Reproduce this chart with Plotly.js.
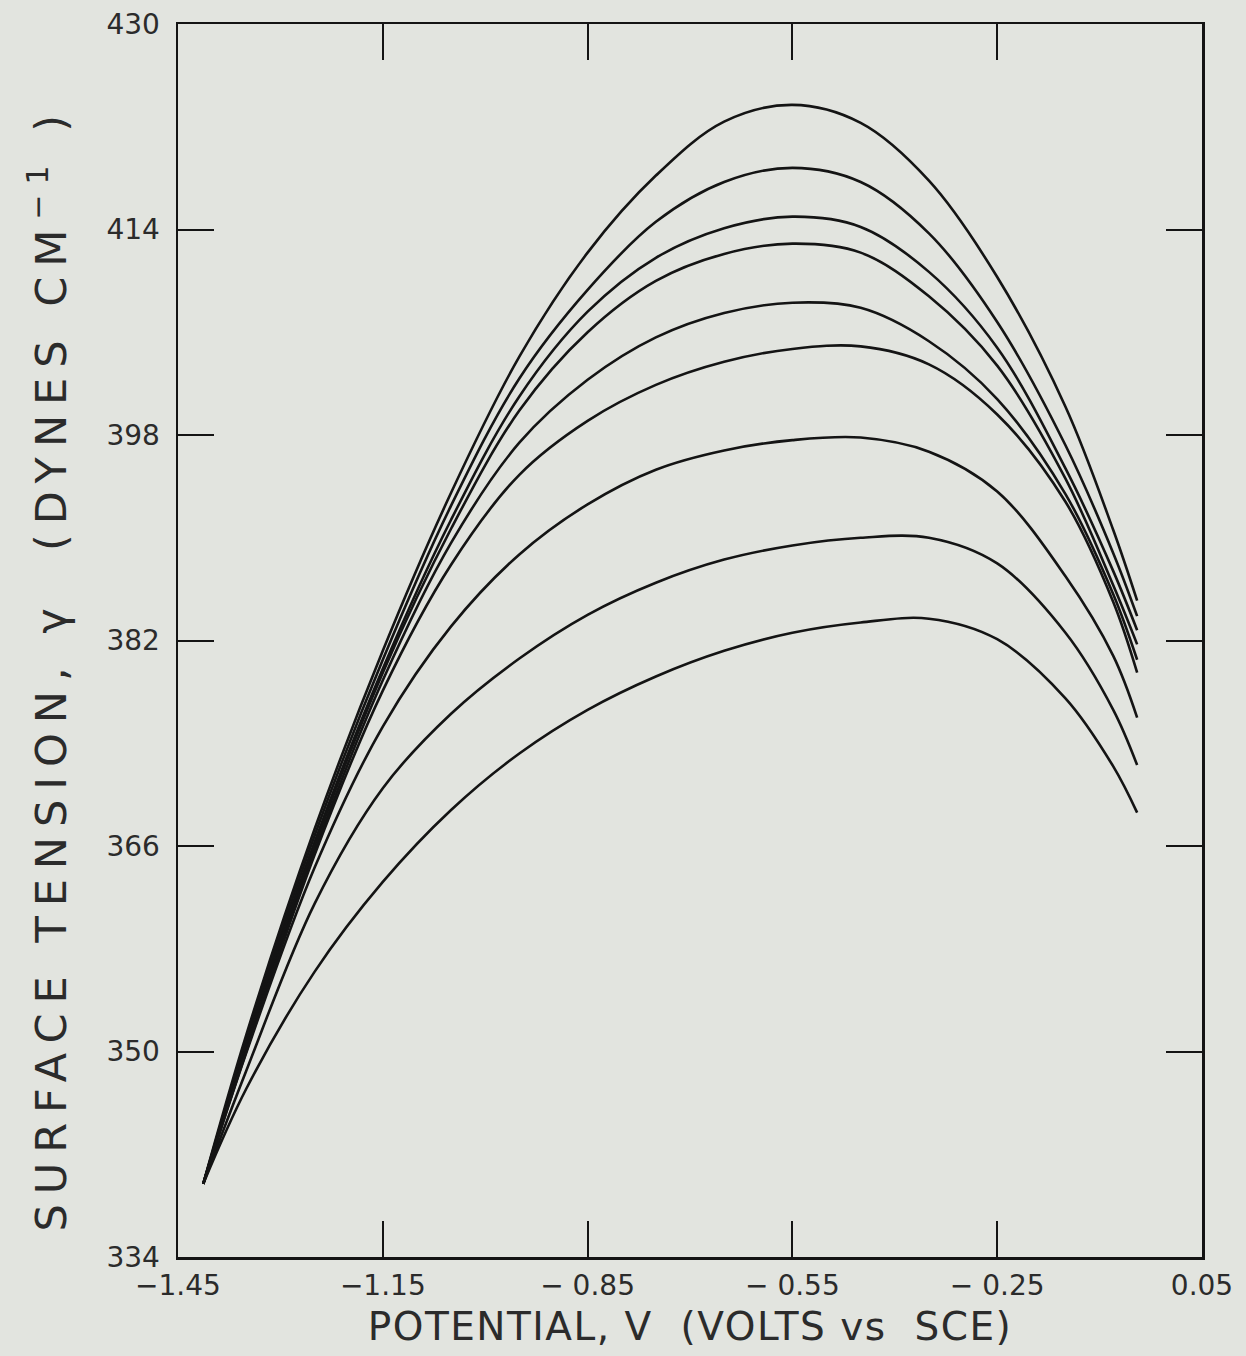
<!DOCTYPE html>
<html>
<head>
<meta charset="utf-8">
<script src="https://cdn.plot.ly/plotly-3.0.1.min.js"></script>
<style>
  html, body { margin: 0; padding: 0; background: #e2e4df; }
  #chart { width: 1246px; height: 1356px; }
  .annotation-text { letter-spacing: 10px; }
  .xtitle { letter-spacing: 1.5px; }
</style>
</head>
<body>
<div id="chart"></div>
<script>
// Potential (V vs SCE), shared by all curves
const potential = [-1.413, -1.35, -1.25, -1.15, -1.05, -0.95, -0.85, -0.75, -0.65, -0.55, -0.45, -0.35, -0.25, -0.15, -0.08, -0.045];

// Surface tension (dynes/cm); curve 1 = highest
const tension1 = [339.7, 351.3, 367.3, 381.2, 393.5, 404.1, 412.2, 418.2, 422.4, 423.7, 422.3, 417.8, 410.3, 400.2, 390.6, 385.1];
const tension2 = [339.7, 350.9, 366.8, 380.5, 392.5, 402.4, 409.3, 414.6, 417.7, 418.8, 417.7, 413.7, 406.8, 397.2, 388.8, 383.9];
const tension3 = [339.7, 350.6, 366.3, 379.8, 391.4, 401.0, 407.6, 411.8, 414.1, 415.0, 414.2, 410.7, 404.8, 395.4, 387.4, 382.8];
const tension4 = [339.7, 350.4, 366.0, 379.5, 390.7, 399.9, 406.0, 410.0, 412.1, 412.9, 412.2, 408.8, 403.4, 394.6, 386.3, 381.7];
const tension5 = [339.7, 350.2, 365.6, 378.9, 389.6, 397.4, 402.3, 405.6, 407.5, 408.3, 407.9, 405.3, 400.8, 393.4, 385.6, 380.5];
const tension6 = [339.7, 350.0, 365.3, 378.1, 387.9, 394.9, 399.1, 401.9, 403.7, 404.7, 404.9, 403.5, 399.6, 392.8, 385.0, 379.5];
const tension7 = [339.7, 349.9, 364.3, 375.3, 383.1, 388.7, 392.6, 395.3, 396.8, 397.6, 397.8, 396.7, 393.6, 387.0, 380.8, 376.0];
const tension8 = [339.7, 348.5, 361.5, 370.5, 376.3, 380.6, 384.0, 386.5, 388.3, 389.4, 390.0, 390.0, 388.0, 382.6, 376.6, 372.3];
const tension9 = [339.7, 347.1, 356.2, 363.2, 368.8, 373.2, 376.6, 379.2, 381.2, 382.6, 383.4, 383.7, 382.1, 377.5, 372.2, 368.6];

const xTickVals = [-1.45, -1.15, -0.85, -0.55, -0.25, 0.05];
const xTickText = ["\u22121.45", "\u22121.15", "\u2212 0.85", "\u2212 0.55", "\u2212 0.25", "0.05"];
const yTickVals = [334, 350, 366, 382, 398, 414, 430];
const yTickText = ["334", "350", "366", "382", "398", "414", "430"];

const xTitle = 'POTENTIAL, V  (VOLTS vs  SCE)';
const yTitle = 'SURFACE TENSION, \u03b3  (DYNES CM<sup>\u22121</sup> )';

const series = [tension1, tension2, tension3, tension4, tension5, tension6, tension7, tension8, tension9];

const traces = series.map(function (t, i) {
  return {
    x: potential, y: t, type: 'scatter', mode: 'lines',
    name: 'curve ' + (i + 1),
    line: { color: '#141414', width: 2.6, shape: 'spline', smoothing: 1 },
    hoverinfo: 'x+y'
  };
});

const fontFam = '"DejaVu Sans", Verdana, sans-serif';
const textCol = '#2b2b2b';
const layout = {
  width: 1246, height: 1356,
  margin: { l: 178, r: 44, t: 24, b: 99 },
  paper_bgcolor: '#e2e4df',
  plot_bgcolor: '#e2e4df',
  showlegend: false,
  font: { family: fontFam, color: textCol, size: 28 },
  xaxis: {
    range: [-1.45, 0.05], tickmode: 'array', tickvals: xTickVals, ticktext: xTickText,
    ticks: 'inside', ticklen: 36, tickwidth: 2, tickcolor: '#141414',
    showline: true, linewidth: 2.5, linecolor: '#141414', mirror: 'ticks',
    showgrid: false, zeroline: false, ticklabelstandoff: 2,
    tickfont: { family: fontFam, size: 28, color: textCol },
    title: { text: xTitle, font: { family: fontFam, size: 39, color: textCol }, standoff: 12 }
  },
  yaxis: {
    range: [334, 430], tickmode: 'array', tickvals: yTickVals, ticktext: yTickText,
    ticks: 'inside', ticklen: 36, tickwidth: 2, tickcolor: '#141414',
    showline: true, linewidth: 2.5, linecolor: '#141414', mirror: 'ticks',
    showgrid: false, zeroline: false, ticklabelstandoff: 10,
    tickfont: { family: fontFam, size: 28, color: textCol }
  },
  annotations: [{
    text: yTitle, textangle: -90, showarrow: false,
    xref: 'paper', yref: 'paper', x: -0.127, y: 0.478,
    xanchor: 'center', yanchor: 'middle',
    font: { family: fontFam, size: 43, color: textCol }
  }]
};

Plotly.newPlot('chart', traces, layout, { staticPlot: true, displayModeBar: false });
</script>
</body>
</html>
